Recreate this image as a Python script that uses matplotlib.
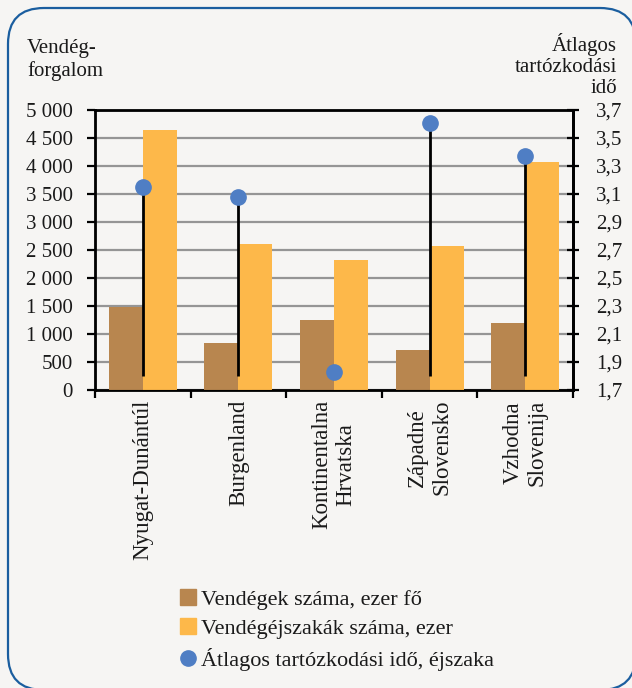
import numpy as np
import matplotlib
matplotlib.use("Agg")
import matplotlib.pyplot as plt
from matplotlib.patches import FancyBboxPatch, Patch
from matplotlib.lines import Line2D
from matplotlib.ticker import FuncFormatter

plt.rcParams["font.family"] = ["Liberation Serif", "DejaVu Serif"]

# data
regions = ["Nyugat-Dunántúl", "Burgenland", "Kontinentalna\nHrvatska",
           "Západné\nSlovensko", "Vzhodna\nSlovenija"]
guests = [1480, 840, 1255, 715, 1200]          # ezer fő
nights = [4650, 2610, 2320, 2580, 4070]        # ezer
avg_stay = [3.15, 3.08, 1.83, 3.605, 3.37]     # éjszaka
left_ticks = [0, 500, 1000, 1500, 2000, 2500, 3000, 3500, 4000, 4500, 5000]
right_ticks = [1.7, 1.9, 2.1, 2.3, 2.5, 2.7, 2.9, 3.1, 3.3, 3.5, 3.7]

BG = "#F6F5F3"
BROWN = "#B8864F"
ORANGE = "#FDB84A"
BLUE = "#4F7EC4"
TXT = "#1a1a1a"

W, H = 632, 688
fig = plt.figure(figsize=(W / 100, H / 100), dpi=100)
fig.patch.set_facecolor(BG)

# rounded frame around everything, drawn in pixel units
frame = fig.add_axes([0, 0, 1, 1], zorder=-5)
frame.set_xlim(0, W)
frame.set_ylim(H, 0)
frame.axis("off")
frame.add_patch(FancyBboxPatch((8, 8), 628, 682,
                               boxstyle="round,pad=0,rounding_size=36",
                               fc=BG, ec="#1B5E9F", lw=1.6))

ax = fig.add_axes([95 / W, 1 - 390 / H, (573 - 95) / W, (390 - 110) / H])
ax.set_facecolor("none")

x = np.arange(len(regions))
w = 0.356
ax.bar(x - w / 2, guests, w, color=BROWN, zorder=3)
ax.bar(x + w / 2, nights, w, color=ORANGE, zorder=3)

ax.set_xlim(-0.5, len(regions) - 0.5)
ax.set_ylim(left_ticks[0], left_ticks[-1])
ax.set_yticks(left_ticks)
ax.yaxis.set_major_formatter(FuncFormatter(lambda v, p: f"{int(v):,}".replace(",", " ")))
ax.grid(axis="y", color="#959595", lw=1.6, zorder=0)
ax.set_axisbelow(True)

ax.set_xticks(np.arange(len(regions) + 1) - 0.5)
ax.set_xticklabels([])
ax.set_xticks(x, minor=True)
ax.set_xticklabels(regions, minor=True, rotation=90, va="top", ha="center",
                   multialignment="center", fontsize=16.5, color=TXT)
ax.tick_params(axis="x", which="minor", length=0, pad=7)
ax.tick_params(axis="x", which="major", length=6, width=1.6, direction="out")
ax.tick_params(axis="y", length=6, width=1.6, direction="out", pad=10,
               labelsize=15, labelcolor=TXT)
for s in ax.spines.values():
    s.set_linewidth(2)
    s.set_color("black")

ax2 = ax.twinx()
ax2.set_ylim(right_ticks[0], right_ticks[-1])
ax2.set_yticks(right_ticks)
ax2.yaxis.set_major_formatter(FuncFormatter(lambda v, p: f"{v:.1f}".replace(".", ",")))
ax2.tick_params(axis="y", length=9, width=1.6, direction="inout", pad=12,
                labelsize=15, labelcolor=TXT)
ax2.spines["right"].set_linewidth(2)
ax2.vlines(x, 1.8, avg_stay, color="black", lw=2, zorder=4)
ax2.plot(x, avg_stay, "o", color=BLUE, ms=11, zorder=5)

# axis titles (baseline refers to the last line)
fig.text(27 / W, 1 - 76 / H, "Vendég-\nforgalom", ha="left", va="baseline",
         fontsize=15, color=TXT, linespacing=1.2)
fig.text(617 / W, 1 - 93 / H, "Átlagos\ntartózkodási\nidő", ha="right", va="baseline",
         fontsize=15, color=TXT, linespacing=1.15, multialignment="right")

handles = [Patch(color=BROWN), Patch(color=ORANGE),
           Line2D([], [], ls="none", marker="o", ms=11, color=BLUE)]
labels = ["Vendégek száma, ezer fő", "Vendégéjszakák száma, ezer",
          "Átlagos tartózkodási idő, éjszaka"]
fig.legend(handles, labels, loc="upper left", bbox_to_anchor=(180 / W, 1 - 589 / H),
           frameon=False, fontsize=16, handlelength=0.7, handleheight=0.7,
           handletextpad=0.25, labelspacing=0.4, borderpad=0, borderaxespad=0,
           labelcolor=TXT)

fig.savefig("out.png", dpi=100, facecolor=BG)
